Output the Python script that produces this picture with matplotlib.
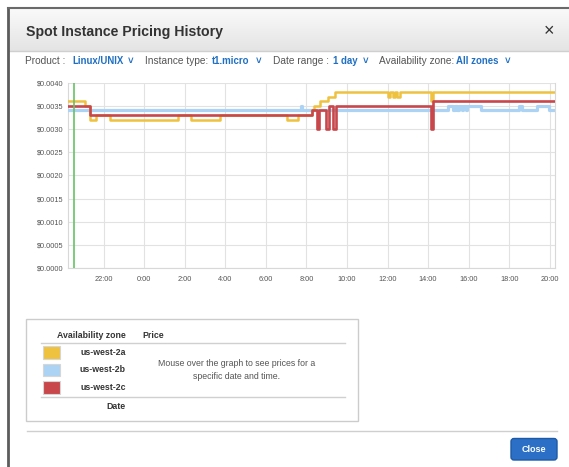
import matplotlib
matplotlib.use("Agg")
import matplotlib.pyplot as plt
from matplotlib.patches import Rectangle, FancyBboxPatch
import numpy as np

# spot price history, hours relative to midnight (step changes)
zone_names = ["us-west-2a", "us-west-2b", "us-west-2c"]

west2a_hours = [-3.78, -2.93, -2.68, -2.38, -1.69, 1.68, 2.30, 3.73, 7.03, 7.57,
                8.29, 8.39, 8.69, 9.06, 9.41, 12.04, 12.14, 12.26, 12.36, 12.48,
                12.60, 14.14, 14.24, 20.26]
west2a_price = [0.0036, 0.0035, 0.0032, 0.0033, 0.0032, 0.0033, 0.0032, 0.0033, 0.0032, 0.0033,
                0.0034, 0.0035, 0.0036, 0.0037, 0.0038, 0.0037, 0.0038, 0.0037, 0.0038, 0.0037,
                0.0038, 0.0036, 0.0038, 0.0038]

west2b_hours = [-3.78, 7.72, 7.80, 15.00, 15.25, 15.33, 15.45, 15.53, 15.65, 15.73,
                15.85, 15.93, 16.60, 18.50, 18.62, 19.39, 19.98, 20.26]
west2b_price = [0.0034, 0.0035, 0.0034, 0.0035, 0.0034, 0.0035, 0.0034, 0.0035, 0.0034, 0.0035,
                0.0034, 0.0035, 0.0034, 0.0035, 0.0034, 0.0035, 0.0034, 0.0034]

west2c_hours = [-3.78, -2.68, 8.29, 8.50, 8.63, 8.96, 9.11, 9.32, 9.46, 14.12, 14.26, 20.26]
west2c_price = [0.0035, 0.0033, 0.0034, 0.0030, 0.0034, 0.0030, 0.0035, 0.0030, 0.0035, 0.0030,
                0.0036, 0.0036]

now_hour = -3.45

x_ticks = [-2, 0, 2, 4, 6, 8, 10, 12, 14, 16, 18, 20]
x_tick_labels = ["22:00", "0:00", "2:00", "4:00", "6:00", "8:00", "10:00",
                 "12:00", "14:00", "16:00", "18:00", "20:00"]
y_ticks = [0.0, 0.0005, 0.0010, 0.0015, 0.0020, 0.0025, 0.0030, 0.0035, 0.0040]

zone_colors = ["#eec13f", "#acd3f3", "#c8474a"]

plt.rcParams["font.family"] = ["Liberation Sans", "DejaVu Sans"]

W, H = 569, 467
fig = plt.figure(figsize=(W / 100, H / 100), dpi=100)
fig.patch.set_facecolor("white")

# background axes in pixel coordinates for the dialog chrome
bg = fig.add_axes([0, 0, 1, 1])
bg.set_xlim(0, W)
bg.set_ylim(H, 0)
bg.axis("off")

# header gradient
grad = np.linspace(0, 1, 50).reshape(-1, 1)
bg.imshow(grad, extent=[8, W, 51, 8], cmap=matplotlib.colors.LinearSegmentedColormap.from_list(
    "hdr", ["#fafafa", "#e4e4e4"]), aspect="auto", zorder=0)
bg.plot([8, W], [51, 51], color="#cfcfcf", lw=1, zorder=1)
bg.plot([8, 8], [8, H], color="#5c5c5c", lw=2, zorder=2)
bg.plot([8, W], [8, 8], color="#6a6a6a", lw=1.5, zorder=2)

bg.text(26, 32, "Spot Instance Pricing History", fontsize=10.2, fontweight="bold",
        color="#333333", va="center", ha="left")
bg.text(549, 32, "\u00d7", fontsize=13, color="#333333", va="center", ha="center")

# toolbar
gray = "#555555"
blue = "#1f6fc4"
toolbar = [("Product :", 25, gray, "normal"), ("Linux/UNIX", 72, blue, "bold"),
           ("\u02c5", 128, blue, "bold"),
           ("Instance type:", 145, gray, "normal"), ("t1.micro", 212, blue, "bold"),
           ("\u02c5", 256, blue, "bold"),
           ("Date range :", 273, gray, "normal"), ("1 day", 333, blue, "bold"),
           ("\u02c5", 363, blue, "bold"),
           ("Availability zone:", 379, gray, "normal"), ("All zones", 456, blue, "bold"),
           ("\u02c5", 505, blue, "bold")]
for label, x, c, w in toolbar:
    size = 6.9 if w == "bold" else 7.3
    bg.text(x, 61, label, fontsize=size, color=c, fontweight=w, va="center", ha="left")

# chart
left, right, top, bottom = 67.7, 555, 82.7, 268
ax = fig.add_axes([left / W, (H - bottom) / H, (right - left) / W, (bottom - top) / H])
ax.set_xlim(-3.78, 20.26)
ax.set_ylim(0, 0.004)
ax.set_xticks(x_ticks)
ax.set_xticklabels(x_tick_labels)
ax.set_yticks(y_ticks)
ax.set_yticklabels(["${:.4f}".format(v) for v in y_ticks])
ax.tick_params(length=0, labelsize=5.3, labelcolor="#555555")
ax.tick_params(axis="y", pad=3)
ax.tick_params(axis="x", pad=6)
ax.grid(True, color="#e2e2e2", lw=0.8)
ax.set_axisbelow(True)
for s in ax.spines.values():
    s.set_color("#d8d8d8")
    s.set_linewidth(0.8)
ax.spines["top"].set_visible(False)

ax.step(west2b_hours, west2b_price, where="post", color=zone_colors[1], lw=2.3, zorder=3)
ax.step(west2a_hours, west2a_price, where="post", color=zone_colors[0], lw=1.8, zorder=4)
ax.step(west2c_hours, west2c_price, where="post", color=zone_colors[2], lw=1.9, zorder=5)
ax.vlines(now_hour, 0, 0.004, color="#66c266", lw=1.2, zorder=6)

# legend / info box
bg.add_patch(Rectangle((26, 319), 332, 101.5, facecolor="white", edgecolor="#cccccc", lw=1))
bg.text(126, 335, "Availability zone", fontsize=6.3, fontweight="bold", color="#333333",
        ha="right", va="center")
bg.text(142.5, 335, "Price", fontsize=6.3, fontweight="bold", color="#333333",
        ha="left", va="center")
bg.plot([41, 345], [342.5, 342.5], color="#d0d0d0", lw=1)
for i, (name, c) in enumerate(zip(zone_names, zone_colors)):
    yc = 352.3 + i * 17.6
    bg.add_patch(Rectangle((42.7, yc - 6.2), 17.3, 12.4, facecolor=c, edgecolor="#d6d6d6", lw=0.8))
    bg.text(126, yc, name, fontsize=6.3, fontweight="bold", color="#333333",
            ha="right", va="center")
bg.text(236.5, 364, "Mouse over the graph to see prices for a", fontsize=6.3,
        color="#555555", ha="center", va="center")
bg.text(236.5, 376.7, "specific date and time.", fontsize=6.3,
        color="#555555", ha="center", va="center")
bg.plot([41, 345], [396.8, 396.8], color="#d0d0d0", lw=1)
bg.text(126, 406.7, "Date", fontsize=6.3, fontweight="bold", color="#333333",
        ha="right", va="center")

# footer
bg.plot([27, 557], [431, 431], color="#cfcfcf", lw=1)
bg.add_patch(FancyBboxPatch((511, 438.5), 46, 21.5, boxstyle="round,pad=0,rounding_size=3",
                            facecolor="#2b6fc6", edgecolor="#1d5aa6", lw=1))
bg.text(534, 449.5, "Close", fontsize=6.5, fontweight="bold", color="white",
        ha="center", va="center")

fig.savefig("out.png", dpi=100)
